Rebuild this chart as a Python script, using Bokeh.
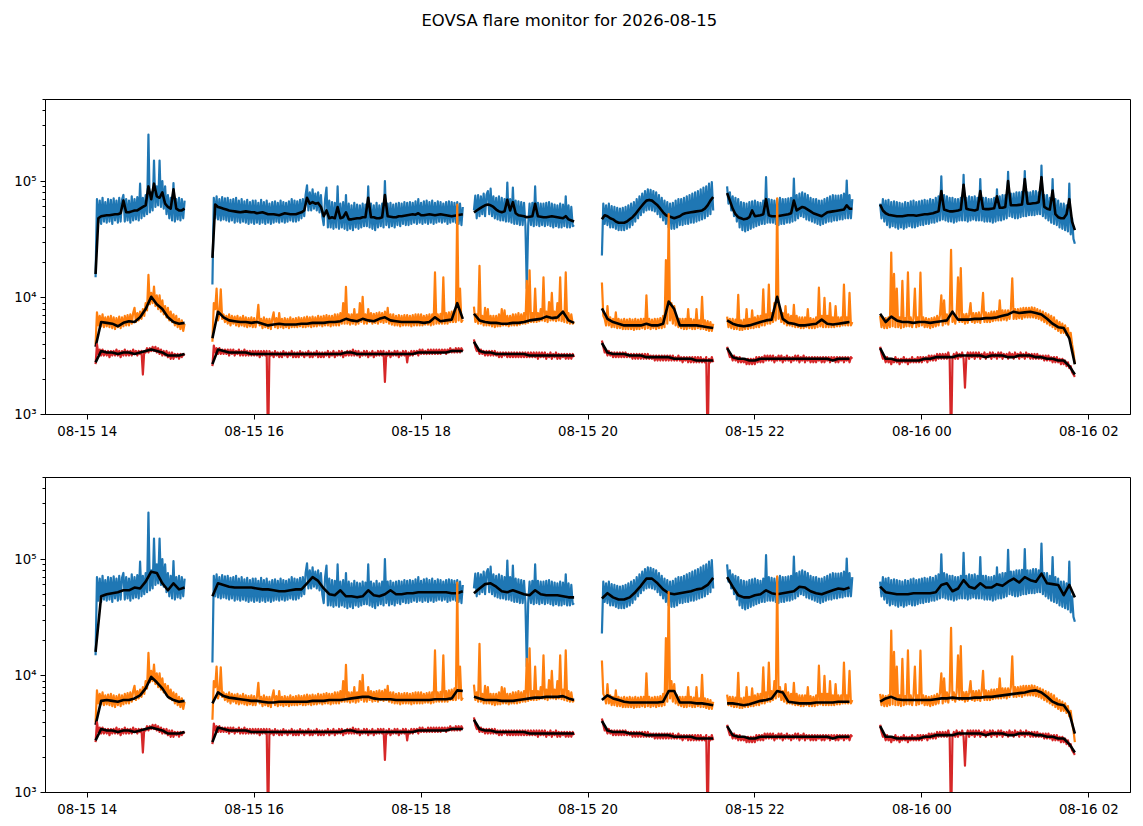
import numpy as np
import pandas as pd
from bokeh.embed import file_html
from bokeh.layouts import column
from bokeh.models import DatetimeTickFormatter, FixedTicker, Range1d, Title
from bokeh.plotting import figure
from bokeh.resources import INLINE

# observing segments (UTC); raw curves every 1 min, blue upper-panel average every 2 min,
# the other running averages every 4 min
seg_starts = ["2026-08-15 14:06", "2026-08-15 15:30", "2026-08-15 18:38",
              "2026-08-15 20:10", "2026-08-15 21:40", "2026-08-15 23:30"]
raw_step_min = 1
fine_avg_step_min = 2
avg_step_min = 4
UNIT = 100  # all values below are in hundreds of counts

blue_raw = [
    [150, 700, 440, 680, 430, 720, 450, 660, 440, 700, 450, 690, 430, 710, 460, 680, 440, 720, 450, 690,
     760, 450, 700, 460, 680, 440, 740, 460, 700, 470, 730, 460, 950, 480, 720, 500, 760, 520, 2500, 540,
     800, 560, 1500, 600, 900, 620, 1500, 600, 1000, 580, 900, 520, 760, 480, 720, 460, 960, 450, 700, 470,
     720, 460, 700, 480, 680],
    [130, 720, 480, 740, 470, 700, 460, 730, 470, 710, 460, 720, 450, 690, 460, 700, 440, 720, 450, 680,
     440, 700, 450, 670, 440, 690, 430, 660, 440, 680, 430, 680, 440, 650, 430, 690, 440, 660, 430, 680,
     440, 640, 430, 660, 440, 670, 450, 650, 440, 680, 450, 660, 440, 650, 450, 670, 460, 700, 450, 680,
     450, 670, 460, 690, 480, 700, 500, 760, 920, 560, 800, 560, 850, 580, 780, 560, 800, 540, 760, 500,
     420, 700, 880, 400, 680, 400, 660, 390, 650, 400, 900, 390, 640, 400, 660, 390, 760, 380, 640, 390,
     620, 380, 650, 400, 630, 390, 620, 400, 640, 410, 630, 410, 900, 400, 640, 390, 620, 380, 650, 400,
     620, 410, 640, 400, 1000, 420, 640, 400, 650, 410, 630, 400, 640, 420, 650, 410, 640, 430, 660, 420,
     650, 420, 660, 430, 650, 440, 670, 430, 700, 440, 650, 430, 670, 440, 680, 430, 660, 440, 680, 430,
     650, 440, 670, 450, 660, 440, 640, 450, 660, 430, 670, 440, 660, 450, 650, 440, 660, 430, 640, 420,
     600],
    [560, 750, 480, 760, 500, 740, 520, 780, 500, 760, 820, 520, 860, 500, 740, 480, 720, 470, 740, 460,
     720, 460, 700, 450, 970, 450, 700, 440, 880, 430, 680, 430, 670, 420, 660, 420, 650, 420, 120, 420,
     640, 420, 650, 410, 900, 420, 650, 410, 640, 420, 640, 410, 650, 420, 660, 410, 640, 400, 630, 410,
     620, 400, 640, 400, 630, 410, 740, 400, 620, 400, 600, 410, 420],
    [230, 640, 430, 620, 420, 640, 400, 610, 400, 600, 390, 590, 380, 580, 380, 590, 380, 600, 390, 620,
     400, 640, 420, 660, 450, 700, 480, 740, 510, 780, 540, 820, 560, 850, 570, 840, 560, 820, 550, 800,
     520, 760, 490, 720, 460, 680, 430, 660, 400, 640, 390, 650, 390, 680, 400, 700, 420, 700, 420, 720,
     430, 740, 430, 760, 440, 780, 440, 800, 450, 820, 460, 850, 470, 880, 480, 900, 500, 950, 520, 980,
     560],
    [900, 640, 800, 560, 740, 500, 720, 450, 700, 400, 660, 380, 650, 370, 640, 380, 660, 390, 670, 400,
     680, 410, 660, 420, 650, 430, 680, 430, 1080, 440, 700, 440, 690, 440, 680, 430, 700, 420, 720, 430,
     700, 430, 700, 440, 710, 440, 720, 450, 1050, 460, 760, 480, 780, 500, 800, 490, 780, 470, 760, 460,
     720, 450, 700, 440, 700, 430, 680, 420, 680, 430, 700, 440, 720, 450, 740, 450, 760, 460, 750, 460,
     750, 470, 760, 470, 780, 480, 1010, 480, 760, 480, 700],
    [640, 480, 700, 450, 680, 420, 690, 400, 660, 410, 670, 400, 660, 390, 650, 400, 640, 390, 660, 400,
     650, 410, 670, 400, 680, 400, 660, 410, 670, 420, 680, 420, 690, 430, 680, 430, 700, 440, 690, 440,
     720, 450, 740, 460, 1100, 470, 760, 460, 740, 450, 720, 450, 720, 440, 700, 450, 700, 460, 720, 460,
     1130, 460, 720, 450, 740, 460, 730, 470, 740, 460, 720, 460, 1040, 460, 720, 450, 720, 450, 700, 450,
     700, 440, 720, 450, 850, 460, 740, 460, 760, 470, 760, 480, 1200, 500, 780, 490, 780, 480, 800, 480,
     800, 490, 810, 500, 1220, 500, 800, 510, 800, 510, 820, 510, 820, 520, 800, 520, 1360, 500, 760, 480,
     760, 460, 720, 440, 1040, 430, 700, 420, 680, 400, 640, 390, 640, 380, 620, 370, 950, 350, 480, 320,
     290],
]

orange_raw = [
    [40, 75, 58, 70, 57, 72, 56, 68, 57, 69, 56, 70, 55, 68, 54, 67, 56, 69, 55, 68,
     57, 70, 58, 71, 58, 72, 60, 74, 82, 62, 74, 64, 76, 66, 80, 70, 90, 78, 157, 88,
     110, 90, 125, 85, 105, 80, 105, 76, 95, 72, 85, 68, 82, 64, 76, 62, 72, 58, 70, 56,
     66, 54, 64, 52, 60],
    [42, 90, 80, 120, 64, 72, 118, 66, 72, 62, 70, 60, 72, 58, 70, 60, 69, 58, 70, 57,
     68, 58, 70, 57, 68, 56, 67, 57, 68, 56, 67, 56, 66, 87, 58, 66, 55, 68, 56, 66,
     55, 66, 54, 66, 75, 56, 67, 55, 74, 56, 66, 55, 67, 56, 66, 55, 68, 56, 66, 56,
     67, 56, 68, 57, 67, 56, 68, 56, 69, 57, 68, 56, 69, 57, 68, 57, 70, 58, 69, 57,
     70, 58, 71, 58, 70, 57, 70, 58, 72, 58, 72, 58, 74, 60, 90, 60, 124, 60, 72, 59,
     72, 60, 80, 59, 72, 60, 90, 62, 102, 60, 72, 60, 80, 62, 74, 60, 73, 61, 74, 60,
     75, 62, 74, 61, 76, 62, 82, 60, 72, 59, 72, 58, 70, 58, 71, 57, 70, 58, 71, 58,
     71, 58, 70, 57, 71, 58, 72, 58, 72, 58, 72, 58, 70, 59, 71, 59, 72, 58, 72, 59,
     165, 60, 72, 60, 73, 60, 150, 60, 74, 60, 75, 62, 76, 62, 78, 62, 630, 64, 120, 62,
     65],
    [84, 62, 72, 60, 188, 60, 70, 58, 82, 58, 80, 58, 70, 57, 70, 56, 70, 57, 72, 57,
     80, 58, 78, 58, 70, 57, 70, 58, 72, 58, 72, 58, 74, 59, 72, 60, 74, 60, 140, 61,
     172, 62, 74, 62, 120, 62, 74, 63, 80, 64, 150, 63, 76, 62, 92, 64, 110, 64, 76, 63,
     90, 64, 150, 63, 76, 62, 165, 61, 74, 60, 72, 60, 62],
    [135, 70, 66, 58, 85, 58, 68, 56, 66, 56, 75, 55, 66, 55, 65, 54, 66, 54, 65, 54,
     66, 54, 65, 53, 66, 54, 65, 54, 66, 55, 66, 54, 105, 55, 66, 54, 65, 55, 66, 54,
     66, 55, 67, 55, 70, 56, 210, 60, 520, 64, 90, 60, 85, 58, 68, 56, 66, 55, 66, 54,
     66, 54, 80, 55, 66, 54, 65, 54, 80, 55, 64, 54, 102, 54, 64, 53, 63, 52, 62, 52,
     60],
    [69, 56, 66, 55, 66, 54, 65, 54, 106, 53, 64, 53, 65, 54, 80, 54, 66, 55, 78, 55,
     68, 56, 70, 56, 70, 58, 118, 58, 72, 60, 130, 60, 74, 62, 90, 64, 710, 66, 80, 62,
     74, 60, 85, 58, 72, 58, 70, 57, 87, 56, 70, 56, 68, 55, 68, 55, 68, 56, 80, 55,
     67, 55, 66, 55, 68, 56, 122, 57, 70, 56, 100, 56, 70, 56, 90, 56, 68, 56, 85, 57,
     68, 57, 68, 58, 130, 58, 68, 58, 110, 58, 62],
    [70, 56, 68, 55, 67, 55, 68, 56, 244, 57, 160, 56, 120, 56, 68, 55, 140, 56, 67, 57,
     165, 57, 68, 56, 67, 120, 56, 68, 57, 164, 58, 68, 56, 67, 56, 66, 55, 67, 56, 68,
     57, 70, 58, 71, 105, 58, 95, 60, 72, 59, 74, 258, 62, 72, 60, 72, 150, 62, 180, 62,
     72, 60, 73, 61, 72, 90, 62, 74, 61, 74, 62, 75, 61, 74, 110, 62, 75, 62, 74, 62,
     76, 63, 76, 64, 77, 64, 95, 64, 78, 65, 78, 64, 78, 66, 80, 147, 66, 80, 66, 80,
     67, 81, 66, 82, 68, 82, 68, 82, 68, 83, 68, 82, 67, 80, 66, 78, 64, 76, 62, 74,
     60, 72, 58, 70, 56, 68, 54, 64, 52, 62, 50, 60, 50, 58, 48, 55, 45, 50, 40, 34,
     27],
]

red_raw = [
    [27, 40, 33, 36, 32, 36, 32, 35, 32, 35, 31, 35, 32, 35, 32, 36, 32, 35, 31, 35,
     32, 36, 32, 35, 32, 35, 32, 36, 33, 35, 32, 35, 33, 35, 22, 35, 34, 37, 34, 37,
     35, 38, 35, 38, 34, 37, 33, 36, 32, 35, 32, 35, 31, 34, 30, 34, 30, 33, 31, 33,
     30, 33, 31, 33, 32],
    [26, 39, 34, 37, 33, 37, 33, 36, 33, 36, 33, 36, 32, 36, 33, 36, 32, 35, 33, 36,
     32, 35, 32, 36, 32, 35, 32, 35, 32, 35, 32, 35, 32, 35, 31, 35, 32, 35, 32, 35,
     5, 35, 32, 34, 31, 35, 32, 34, 31, 34, 31, 35, 32, 34, 31, 34, 32, 35, 31, 34,
     31, 34, 31, 35, 32, 34, 31, 34, 32, 35, 31, 34, 31, 34, 32, 35, 31, 34, 31, 34,
     31, 34, 32, 35, 31, 34, 32, 35, 31, 34, 32, 35, 32, 35, 31, 34, 32, 35, 32, 35,
     32, 36, 32, 35, 32, 35, 31, 34, 32, 35, 32, 35, 31, 34, 32, 35, 31, 34, 32, 35,
     32, 35, 32, 35, 19, 34, 32, 35, 31, 34, 32, 35, 32, 35, 31, 34, 32, 35, 32, 35,
     28, 34, 32, 35, 32, 35, 33, 35, 32, 36, 33, 36, 33, 35, 33, 36, 33, 36, 33, 36,
     33, 36, 33, 36, 33, 36, 34, 36, 33, 36, 34, 37, 34, 36, 34, 37, 34, 37, 34, 37,
     35],
    [44, 38, 35, 36, 33, 36, 33, 35, 32, 35, 32, 35, 32, 35, 32, 35, 32, 34, 31, 34,
     31, 34, 32, 34, 31, 34, 31, 34, 31, 34, 31, 34, 31, 34, 31, 34, 31, 34, 31, 34,
     31, 34, 31, 34, 31, 34, 30, 34, 31, 34, 31, 34, 30, 33, 31, 34, 30, 33, 31, 34,
     30, 33, 30, 33, 31, 33, 30, 33, 30, 33, 30, 33, 31],
    [43, 38, 34, 35, 32, 35, 32, 34, 31, 34, 31, 34, 31, 34, 31, 34, 31, 34, 31, 33,
     31, 33, 30, 33, 30, 33, 30, 33, 30, 33, 30, 33, 30, 33, 30, 32, 30, 32, 29, 32,
     29, 32, 29, 32, 29, 32, 29, 32, 29, 32, 29, 32, 29, 31, 29, 32, 29, 31, 28, 31,
     29, 31, 28, 31, 28, 31, 28, 31, 28, 31, 28, 31, 28, 30, 28, 31, 5, 30, 28, 31,
     28],
    [38, 34, 31, 32, 29, 32, 29, 31, 28, 31, 28, 30, 28, 30, 27, 30, 27, 30, 27, 30,
     27, 31, 28, 31, 28, 31, 28, 32, 29, 32, 29, 32, 29, 32, 28, 31, 29, 32, 29, 32,
     28, 31, 29, 32, 29, 31, 28, 31, 29, 32, 29, 32, 28, 31, 29, 32, 28, 31, 29, 31,
     28, 31, 28, 31, 28, 31, 29, 31, 28, 31, 28, 31, 29, 31, 28, 31, 29, 31, 28, 31,
     28, 31, 29, 31, 28, 31, 29, 31, 28, 31, 30],
    [38, 33, 30, 31, 28, 31, 28, 30, 27, 30, 28, 31, 28, 30, 27, 30, 28, 31, 28, 30,
     27, 30, 28, 31, 28, 30, 28, 31, 28, 31, 28, 31, 29, 31, 28, 32, 29, 32, 29, 32,
     29, 33, 30, 33, 30, 33, 30, 33, 30, 34, 30, 5, 30, 33, 30, 34, 30, 33, 31, 34,
     30, 17, 31, 34, 30, 34, 31, 34, 30, 34, 31, 34, 30, 33, 31, 34, 30, 33, 31, 34,
     30, 34, 31, 33, 30, 34, 31, 34, 30, 33, 31, 33, 30, 34, 31, 33, 30, 34, 31, 33,
     30, 34, 31, 33, 30, 34, 31, 33, 30, 33, 30, 33, 30, 33, 30, 32, 30, 32, 29, 32,
     29, 32, 29, 31, 28, 31, 28, 31, 28, 30, 27, 30, 27, 29, 26, 28, 25, 26, 23, 22,
     21],
]

# running averages, upper panel (short window); blue one is on the 2-min grid
blue_avg_top = [
    [160, 480, 500, 505, 510, 510, 515, 520, 520, 530, 680, 540, 540, 550, 560, 560, 580, 600, 620, 900,
     700, 950, 740, 720, 800, 640, 600, 580, 850, 580, 560, 560, 580],
    [220, 630, 600, 590, 580, 570, 560, 555, 550, 545, 540, 545, 550, 545, 540, 540, 530, 535, 540, 530,
     520, 520, 520, 515, 510, 520, 530, 525, 520, 520, 520, 530, 540, 560, 720, 640, 660, 640, 650, 600,
     500, 560, 480, 490, 480, 600, 480, 490, 540, 470, 470, 475, 480, 480, 490, 490, 720, 490, 490, 480,
     480, 490, 760, 500, 495, 490, 490, 500, 500, 505, 510, 515, 520, 515, 530, 510, 510, 515, 520, 515,
     510, 515, 520, 515, 510, 505, 500, 505, 510, 515, 520],
    [540, 560, 580, 600, 620, 630, 620, 600, 570, 550, 540, 550, 690, 560, 660, 530, 510, 505, 500, 490,
     495, 500, 640, 500, 495, 490, 490, 495, 500, 495, 490, 485, 480, 500, 470, 460, 450],
    [470, 510, 500, 480, 470, 450, 440, 440, 440, 450, 470, 490, 520, 560, 600, 640, 680, 690, 680, 650,
     620, 580, 540, 510, 500, 490, 480, 490, 500, 520, 530, 535, 540, 545, 550, 555, 560, 580, 620, 680,
     730],
    [790, 680, 580, 520, 490, 480, 470, 475, 490, 560, 500, 505, 510, 520, 700, 510, 500, 500, 500, 505,
     510, 515, 520, 530, 680, 560, 580, 600, 590, 570, 550, 530, 520, 510, 500, 520, 540, 545, 550, 555,
     560, 565, 570, 620, 580, 580],
    [630, 560, 530, 515, 510, 505, 500, 500, 500, 505, 510, 510, 510, 505, 510, 515, 520, 520, 525, 530,
     540, 550, 820, 570, 560, 550, 550, 555, 560, 570, 930, 580, 570, 565, 560, 570, 820, 580, 575, 575,
     580, 585, 740, 590, 590, 600, 1000, 620, 620, 620, 625, 630, 1040, 640, 640, 645, 650, 660, 1080, 600,
     580, 570, 830, 520, 490, 480, 480, 520, 700, 450, 380],
]
orange_avg_top = [
    [38, 62, 61, 60, 57, 61, 63, 62, 68, 80, 102, 88, 80, 68, 62, 60, 61],
    [45, 76, 68, 64, 63, 62, 62, 61, 62, 60, 58, 59, 60, 59, 59, 59, 60, 60, 61, 61,
     61, 62, 62, 63, 66, 64, 63, 66, 64, 63, 66, 68, 64, 63, 62, 62, 62, 62, 61, 62,
     68, 63, 64, 65, 90, 66],
    [73, 64, 62, 61, 61, 60, 60, 61, 61, 62, 64, 65, 66, 69, 67, 68, 76, 64, 61],
    [81, 66, 62, 60, 58, 58, 58, 58, 60, 58, 58, 60, 93, 80, 58, 58, 58, 58, 57, 56, 55],
    [64, 60, 58, 57, 58, 60, 62, 64, 65, 102, 66, 61, 60, 58, 58, 59, 60, 65, 60, 59, 60, 61, 62],
    [73, 62, 69, 64, 62, 62, 61, 62, 62, 61, 62, 63, 64, 76, 65, 65, 65, 66, 66, 67,
     67, 68, 70, 72, 76, 74, 75, 76, 74, 72, 66, 60, 56, 55, 45, 27],
]
red_avg = [
    [28, 35, 34, 34, 33, 34, 34, 33, 34, 35, 36, 35, 34, 32, 32, 32, 33],
    [27, 36, 35, 34, 34, 34, 34, 33, 33, 33, 33, 33, 33, 33, 33, 33, 33, 33, 33, 33,
     33, 33, 33, 33, 34, 34, 33, 33, 33, 33, 33, 33, 33, 33, 33, 33, 33, 34, 34, 34,
     34, 34, 34, 35, 35, 35],
    [42, 35, 34, 34, 33, 33, 33, 33, 33, 33, 32, 32, 32, 32, 32, 32, 32, 32, 32],
    [41, 34, 33, 33, 33, 32, 32, 32, 31, 31, 31, 31, 31, 30, 30, 30, 30, 29, 29, 29, 29],
    [37, 31, 30, 30, 29, 29, 30, 30, 30, 30, 30, 30, 30, 30, 30, 30, 30, 30, 30, 29, 30, 30, 30],
    [37, 30, 30, 29, 29, 29, 29, 29, 30, 30, 31, 31, 31, 31, 32, 32, 32, 32, 32, 31,
     32, 32, 32, 31, 31, 32, 32, 32, 31, 31, 30, 30, 29, 29, 26, 22],
]

# running averages, lower panel (longer window)
blue_avg_bottom = [
    [160, 480, 500, 510, 520, 540, 540, 570, 560, 640, 780, 760, 620, 540, 620, 550, 570],
    [480, 620, 600, 580, 570, 570, 570, 570, 560, 550, 550, 540, 530, 530, 540, 550, 550, 620, 700, 650,
     560, 500, 490, 540, 480, 480, 470, 480, 540, 490, 480, 500, 540, 500, 500, 510, 510, 520, 520, 520,
     520, 520, 520, 510, 510, 530],
    [510, 560, 610, 620, 580, 530, 520, 540, 520, 500, 490, 540, 500, 490, 490, 490, 480, 470, 470],
    [460, 510, 470, 450, 450, 470, 520, 590, 680, 680, 620, 550, 510, 500, 510, 520, 530, 550, 560, 600, 690],
    [700, 580, 490, 470, 470, 490, 500, 540, 510, 500, 510, 520, 530, 580, 570, 530, 510, 500, 520, 540,
     560, 550, 570],
    [580, 520, 510, 500, 500, 500, 510, 510, 510, 510, 520, 600, 620, 530, 560, 660, 580, 560, 620, 570,
     570, 610, 590, 640, 680, 630, 700, 660, 640, 750, 620, 610, 600, 490, 600, 470],
]
orange_avg_bottom = [
    [38, 61, 62, 61, 60, 62, 62, 64, 68, 78, 98, 88, 78, 66, 62, 60, 61],
    [58, 72, 67, 65, 64, 63, 62, 61, 61, 60, 59, 59, 60, 60, 60, 60, 60, 60, 61, 61,
     61, 62, 62, 62, 63, 64, 65, 66, 66, 64, 63, 63, 63, 62, 62, 62, 62, 62, 62, 62,
     63, 63, 63, 64, 75, 74],
    [66, 64, 62, 62, 62, 61, 61, 61, 62, 63, 64, 65, 65, 66, 66, 66, 67, 64, 62],
    [62, 68, 64, 62, 60, 59, 59, 59, 59, 59, 59, 60, 74, 74, 59, 59, 59, 58, 58, 57, 56],
    [58, 58, 57, 56, 57, 59, 61, 62, 64, 74, 72, 60, 59, 58, 58, 58, 59, 59, 59, 59, 60, 60, 60],
    [60, 64, 66, 63, 62, 62, 62, 62, 62, 62, 63, 64, 64, 65, 64, 64, 64, 65, 65, 66,
     66, 67, 68, 69, 70, 71, 72, 74, 75, 72, 66, 60, 57, 56, 48, 32],
]

x_ticks = ["2026-08-15 14:00", "2026-08-15 16:00", "2026-08-15 18:00", "2026-08-15 20:00",
           "2026-08-15 22:00", "2026-08-16 00:00", "2026-08-16 02:00"]
x_limits = ["2026-08-15 13:30", "2026-08-16 02:30"]
title = "EOVSA flare monitor for 2026-08-15"

BLUE, ORANGE, RED = "#1f77b4", "#ff7f0e", "#d62728"
FONT = "DejaVu Sans"


def ms(t):
    return pd.Timestamp(t).value / 1e6


def to_xy(segments, step):
    xs, ys = [], []
    for start, vals in zip(seg_starts, segments):
        t0 = pd.Timestamp(start)
        for i, v in enumerate(vals):
            xs.append((t0 + pd.Timedelta(minutes=step * i)).value / 1e6)
            ys.append(v * UNIT)
        xs.append(np.nan)
        ys.append(np.nan)
    return xs, ys


def make_panel(blue_avg, blue_step, orange_avg, top_border, bottom_border):
    p = figure(
        x_axis_type="datetime",
        y_axis_type="log",
        x_range=Range1d(ms(x_limits[0]), ms(x_limits[1])),
        y_range=Range1d(1e3, 5e5),
        frame_width=1085,
        frame_height=315,
        min_border_left=45,
        min_border_right=5,
        min_border_top=top_border,
        min_border_bottom=bottom_border,
        title_location=None,
        toolbar_location=None,
        output_backend="svg",
    )
    p.xgrid.visible = False
    p.ygrid.visible = False
    p.outline_line_color = "black"
    p.outline_line_alpha = 1.0

    p.xaxis.ticker = FixedTicker(ticks=[ms(t) for t in x_ticks])
    fmt = "%m-%d %H"
    p.xaxis.formatter = DatetimeTickFormatter(hours=fmt, hourmin=fmt, days=fmt, minutes=fmt)
    p.yaxis.ticker = FixedTicker(
        ticks=[1e3, 1e4, 1e5],
        minor_ticks=[k * 10 ** e for e in (3, 4, 5) for k in range(2, 10) if k * 10 ** e <= 5e5],
    )
    p.yaxis.major_label_overrides = {1000: "10\u00b3", 10000: "10\u2074", 100000: "10\u2075"}
    for ax in (p.xaxis, p.yaxis):
        ax.axis_line_color = "black"
        ax.major_tick_line_color = "black"
        ax.minor_tick_line_color = "black"
        ax.major_tick_in = 0
        ax.major_tick_out = 5
        ax.minor_tick_in = 0
        ax.minor_tick_out = 3
        ax.major_label_text_font = FONT
        ax.major_label_text_font_size = "13.3px"
        ax.major_label_text_color = "black"
        ax.major_label_standoff = 4

    series = ((blue_raw, blue_avg, blue_step, BLUE),
              (orange_raw, orange_avg, avg_step_min, ORANGE),
              (red_raw, red_avg, avg_step_min, RED))
    for raw, avg, step, color in series:
        x, y = to_xy(raw, raw_step_min)
        p.line(x, y, line_color=color, line_width=2.2, line_join="round")
        x, y = to_xy(avg, step)
        p.line(x, y, line_color="black", line_width=2.6, line_join="round")
    return p


top = make_panel(blue_avg_top, fine_avg_step_min, orange_avg_top, 99, 33)
# blank spacer next to the frame, then the figure title above it
top.add_layout(Title(text=" ", text_font=FONT, text_font_size="16.4px", standoff=41), "above")
top.add_layout(Title(text=title, align="left", offset=376, text_font=FONT, text_font_size="16.4px",
                     text_font_style="normal", text_color="black", standoff=16), "above")

bottom = make_panel(blue_avg_bottom, avg_step_min, orange_avg_bottom, 30, 24)

layout = column(top, bottom)
open("out.html", "w").write(file_html(layout, INLINE))
